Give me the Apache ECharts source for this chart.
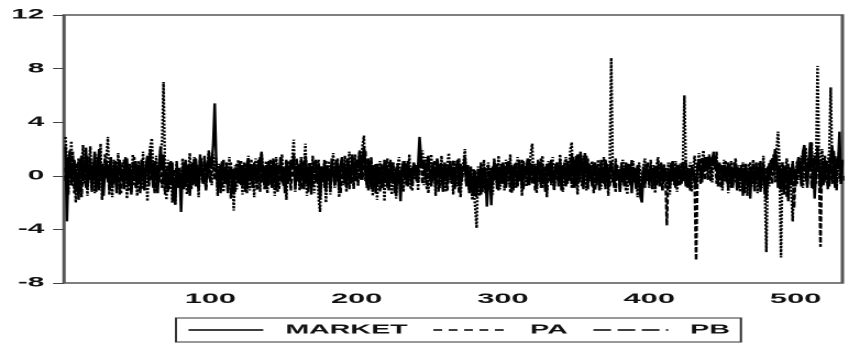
<!DOCTYPE html>
<html>
<head>
<meta charset="utf-8">
<script src="https://cdn.jsdelivr.net/npm/echarts@6/dist/echarts.min.js"></script>
<style>
  html, body { margin: 0; padding: 0; background: #fff; overflow: hidden; }
  /* the source picture is stretched horizontally, so the chart is drawn narrow and scaled in x */
  #main { width: 386px; height: 347px; transform: scaleX(2.1995); transform-origin: 0 0; }
</style>
</head>
<body>
<div id="main"></div>
<script>
var seriesNames = ['MARKET', 'PA', 'PB']

var market = [
  2.2,-3.4,0.8,1.9,-0.6,0.4,1.2,-1.1,0.3,-1.8,0.9,1.5,-0.4,0.6,2.1,-0.9,0.2,1.3,-0.7,0.5,
  1.8,-1.2,0.4,2.0,-0.3,0.9,-1.5,0.6,1.1,-0.5,0.3,1.4,-0.8,0.2,0.9,-1.3,0.7,1.2,-0.2,0.5,
  -1.0,0.8,1.3,-0.6,0.4,-1.4,0.9,0.2,1.1,-0.7,0.6,-0.3,1.2,0.1,-1.1,0.7,1.5,-0.4,2.0,0.3,
  -0.9,1.1,0.5,-1.3,0.8,2.2,0.4,1.6,-0.6,0.3,-1.2,0.9,-0.4,1.0,-1.6,-2.1,0.6,-0.8,0.2,-2.7,
  0.5,-1.0,1.2,-0.3,0.8,-1.5,0.4,1.0,-0.6,1.3,0.2,-0.9,1.6,0.3,-0.5,1.1,0.7,-0.2,1.8,0.6,
  0.9,2.4,5.4,1.2,-0.8,0.5,-1.3,0.9,0.2,-0.6,1.0,-1.1,0.4,0.7,-0.9,-1.4,0.6,0.3,-0.5,1.1,
  -0.7,0.8,0.2,-1.2,0.9,1.3,-0.4,0.5,-0.9,1.0,0.3,-0.6,1.2,0.6,1.8,-0.3,0.7,-1.0,0.4,1.1,
  0.2,-0.8,1.3,0.5,-1.1,0.8,0.1,1.4,-0.5,0.6,-1.3,0.9,0.3,-0.4,1.2,0.7,1.6,-0.9,0.4,0.8,
  -0.6,1.1,0.2,-1.0,1.5,0.4,-0.7,0.9,-1.4,0.6,0.3,1.2,-0.5,0.8,-1.8,0.5,-0.3,1.0,-1.2,0.7,
  0.4,-0.9,1.3,0.2,-0.6,1.0,0.5,-1.1,0.8,1.4,-0.2,0.6,-0.8,1.1,0.3,-0.5,1.6,0.9,-0.4,1.2,
  0.6,1.8,-0.3,1.1,2.2,0.5,-0.7,1.3,0.2,-1.0,0.8,0.4,-1.3,0.9,-0.5,0.7,0.1,-0.9,1.2,-0.4,
  0.8,-1.1,0.5,1.0,-0.6,0.3,-1.4,0.7,0.2,-1.9,0.6,1.1,-0.3,0.9,-0.8,0.4,0.2,-0.6,1.0,0.5,
  -0.4,0.8,2.9,1.4,0.6,1.2,-0.3,0.9,1.5,0.2,-0.7,1.0,0.4,-0.9,1.3,0.6,-0.2,0.8,-1.2,0.5,
  0.9,-0.6,0.3,1.1,-0.4,0.7,-1.0,0.5,1.2,0.1,-0.8,0.6,0.3,1.4,-0.5,0.8,-1.3,0.2,-0.7,-1.5,
  0.4,-1.2,-0.6,0.5,-1.4,0.3,-0.9,0.6,-2.3,-0.5,0.4,-2.2,0.7,-0.3,0.9,-1.0,0.5,0.2,-0.6,1.0,
  0.3,-0.8,0.7,1.1,-0.4,0.6,-1.1,0.9,0.2,-0.5,1.2,0.4,-0.9,0.8,-0.2,0.6,1.3,-0.7,0.5,0.9,
  -0.3,0.7,-1.0,1.1,0.4,-0.6,0.8,0.2,-1.2,0.9,0.5,-0.4,1.2,0.3,-0.8,0.7,1.0,-0.5,0.6,-1.1,
  0.8,0.3,-0.7,1.1,0.5,-0.4,1.6,0.2,-0.9,1.5,0.6,-0.3,1.8,0.4,-1.0,1.7,0.5,-0.6,0.9,0.2,
  -0.8,0.7,1.0,-0.5,0.4,-1.1,0.8,0.3,-0.6,1.2,0.5,-0.9,0.6,1.0,0.2,-0.7,0.9,-0.3,0.5,-1.2,
  0.7,0.3,-0.8,1.0,0.4,-0.5,0.8,-1.3,0.6,0.2,-0.9,0.7,-0.4,-1.6,-2.0,0.5,-0.7,0.9,0.3,-0.6,
  0.8,-0.3,0.5,-1.0,0.7,0.2,-0.8,1.0,0.4,-0.5,0.6,-0.2,0.3,-0.9,0.7,1.1,-0.4,0.5,-0.7,0.8,
  0.3,-0.6,1.0,0.4,-0.8,0.6,0.2,-1.1,0.7,0.5,-0.3,-0.9,0.8,1.2,0.4,-0.5,1.0,1.4,0.6,1.1,
  1.5,0.7,1.2,1.8,0.5,1.1,-0.3,0.9,0.4,-0.7,0.8,0.2,-0.5,1.0,0.3,-0.9,0.6,-0.2,0.9,-1.1,
  0.5,-0.4,0.8,-1.5,0.3,0.9,-0.6,0.4,-1.7,0.7,0.2,-0.8,1.0,-0.3,0.6,-1.2,0.4,0.9,-0.5,-1.8,
  0.6,-0.3,0.9,1.3,0.4,2.0,1.2,-0.6,0.8,-1.0,0.5,-1.4,0.7,0.2,-1.9,0.6,-0.4,0.9,0.3,-0.8,
  0.7,1.4,0.3,-0.6,1.8,2.3,0.5,-0.9,1.1,2.5,0.6,1.3,-1.7,0.4,1.9,0.8,-1.2,0.5,1.0,-0.4,
  1.1,0.6,-0.8,1.5,2.2,0.4,-0.9,1.3,0.7,3.3,-0.6,1.2
]

var pa = [
  2.9,1.2,-1.4,0.6,2.6,-0.8,1.1,-2.0,0.5,1.3,-1.2,0.4,2.3,-0.6,1.0,-1.5,0.8,2.2,-0.9,0.3,
  -1.3,1.6,0.2,-0.7,2.4,-1.8,0.9,0.1,1.5,2.9,-1.1,0.6,-1.6,1.2,0.3,-0.9,1.7,-1.4,0.5,1.0,
  -0.6,1.4,-1.7,0.8,0.2,-1.2,1.6,-0.4,0.9,-1.5,1.1,0.3,-1.0,1.8,-0.5,0.7,-1.9,1.3,2.2,2.8,
  0.4,-1.3,1.5,-0.7,0.9,1.9,2.5,7.0,0.6,-1.8,1.2,-0.5,0.8,-2.0,0.3,-2.2,1.1,-0.9,0.4,-1.6,
  1.3,-0.6,0.9,-1.4,0.5,1.7,-1.0,0.2,1.4,-0.8,0.7,-1.6,1.2,0.3,-0.5,1.5,-1.1,0.8,1.9,0.2,
  -0.7,1.6,0.4,1.3,-1.5,0.9,-0.4,1.1,-1.2,0.6,0.2,-0.9,1.4,-1.7,0.5,-2.6,0.8,-1.0,1.2,-0.3,
  0.7,-1.4,1.0,0.3,-0.8,1.5,-1.1,0.6,0.1,-1.6,1.3,-0.5,0.9,-1.2,1.7,0.4,-0.7,1.1,-1.3,0.5,
  1.2,-0.9,0.6,-1.5,1.4,0.2,-1.0,0.8,1.6,-0.6,0.3,-1.8,1.1,-0.4,0.7,1.3,2.7,-1.2,0.5,0.9,
  -1.1,1.4,-0.3,0.8,2.4,-1.5,0.6,1.0,-0.8,1.5,-1.3,0.4,0.9,-1.7,-2.7,0.7,-0.5,1.2,-2.0,0.3,
  1.1,-1.4,0.6,1.7,-0.9,0.2,1.3,-1.6,0.5,1.0,-0.7,1.5,-1.2,0.4,1.8,-0.6,0.9,-1.0,1.6,0.3,
  -0.8,1.9,0.5,2.3,3.0,-0.4,1.2,-1.1,0.7,1.4,-1.5,0.2,0.9,-1.8,0.6,1.1,-0.9,0.4,-1.9,0.8,
  1.3,-0.6,0.5,-1.4,1.0,0.2,-1.7,0.8,1.4,-0.5,0.6,-1.2,1.1,0.3,-0.8,1.6,-1.0,0.4,0.9,-0.3,
  0.6,-1.1,1.2,0.8,1.9,-0.7,1.4,0.5,-1.3,1.0,1.6,-0.4,0.7,-1.5,1.2,0.3,-0.9,1.5,-0.6,0.8,
  -1.2,0.9,1.7,-0.5,0.4,-1.4,1.1,0.6,-0.8,1.3,-1.6,0.2,1.0,2.0,-0.7,0.8,-1.1,0.5,-1.8,-0.9,
  -2.4,-3.9,0.7,-1.5,0.9,-0.4,1.2,-1.3,0.5,1.0,-0.8,0.6,-1.4,1.3,0.2,-0.7,1.5,-1.0,0.4,0.8,
  -1.1,1.2,0.3,-0.6,1.6,-1.3,0.7,0.2,-0.9,1.4,-0.4,0.8,-1.5,1.1,0.5,-0.8,1.3,0.4,1.7,2.4,
  -0.5,0.9,-1.3,1.2,0.3,-0.9,1.5,-0.4,0.7,-1.6,1.1,0.2,-0.7,1.4,-1.1,0.6,1.0,-0.5,1.6,0.3,
  -1.2,0.8,1.4,-0.6,0.5,1.9,2.5,-0.9,1.2,0.4,-1.4,1.6,0.3,-0.8,1.5,0.6,-1.1,1.3,-0.4,0.7,
  1.1,-1.3,0.5,-0.7,1.2,0.2,-1.0,0.9,1.4,-0.6,0.3,-1.5,1.0,8.8,0.6,-0.9,1.3,-0.3,0.5,-1.2,
  0.8,1.2,-0.7,0.4,-1.4,0.9,0.3,-0.8,1.1,-0.5,0.6,-1.6,1.0,0.2,-1.2,0.7,1.3,-0.4,0.5,-0.9,
  1.2,-0.6,0.4,-1.3,0.8,1.4,-0.5,0.6,-1.1,0.9,0.2,-0.8,1.0,-1.4,0.5,0.8,-0.7,1.1,-1.2,0.4,
  0.9,-0.5,1.3,6.0,0.7,-0.9,0.4,1.0,-1.2,0.6,1.5,-0.4,0.8,1.7,-0.6,1.2,1.9,0.5,1.4,-0.3,
  1.6,0.9,-0.5,1.3,0.6,1.8,-0.8,1.0,0.3,-1.1,1.2,-0.4,0.7,-1.3,0.5,1.1,-0.9,0.4,1.3,-0.6,
  0.8,-1.2,0.5,1.0,-0.7,0.3,-1.5,0.9,0.2,-0.8,1.2,-0.4,0.6,-1.3,1.0,0.4,-0.9,1.5,-1.1,-5.7,
  0.7,-0.8,1.2,0.4,1.6,-0.5,1.9,3.3,0.8,-6.1,1.0,-0.7,0.5,1.3,-0.9,0.6,-1.2,-3.4,0.4,-0.6,
  1.1,-0.3,0.8,1.5,-0.9,0.5,2.1,-0.6,1.4,0.3,2.5,-1.0,1.7,0.9,8.2,1.2,-0.8,2.0,0.6,1.3,
  -0.5,0.9,1.8,6.6,0.7,-0.4,1.5,-1.1,0.8,2.1,-0.6,1.0
]

var pb = [
  0.6,-1.0,1.4,0.3,-0.7,1.8,-1.3,0.5,0.9,-0.4,1.2,-1.6,0.7,0.2,-0.9,1.5,-0.3,0.8,-1.2,0.4,
  0.9,-0.5,1.3,-1.1,0.6,0.1,-0.8,1.6,-0.2,0.7,-1.4,0.9,0.4,-0.6,1.1,-1.0,0.5,0.2,-1.3,0.8,
  1.2,-0.4,0.6,-1.1,0.9,0.3,-0.7,1.4,-0.9,0.5,0.8,-1.3,0.4,1.0,-0.6,0.2,1.3,-0.8,0.6,-0.3,
  1.0,-1.2,0.5,0.8,-0.5,1.3,-0.9,0.4,-1.4,0.7,0.2,-1.0,1.1,-0.6,0.5,-1.5,0.9,-0.3,0.6,-1.1,
  0.4,1.0,-0.8,0.6,-1.2,0.9,0.3,-0.7,1.2,-0.4,0.8,-1.1,0.5,1.3,-0.6,0.2,-1.0,1.1,0.6,-0.5,
  1.4,0.7,-0.3,0.9,-1.1,0.4,0.8,-0.9,1.2,-0.5,0.6,-1.3,0.3,1.0,-0.7,0.5,-1.2,0.9,0.2,-0.6,
  1.1,-0.8,0.4,0.9,-1.3,0.6,-0.2,1.2,-0.9,0.5,0.7,-1.1,0.3,1.4,-0.5,0.8,-1.0,0.4,0.9,-0.7,
  0.5,1.1,-0.9,0.3,0.8,-1.2,0.6,-0.4,1.0,-0.8,0.4,1.2,-0.6,0.7,-1.1,0.9,0.3,-0.7,1.3,-0.4,
  0.8,-1.0,0.5,1.1,-0.6,0.3,-1.2,0.9,0.4,-0.8,1.0,-0.5,0.6,1.2,-1.4,0.7,0.2,-0.9,1.1,-0.3,
  0.6,-1.1,0.9,0.3,-0.7,1.2,-0.4,0.8,-1.3,0.5,0.9,-0.6,0.4,1.3,-1.0,0.7,0.2,-0.8,1.1,0.5,
  -0.6,1.0,1.5,-0.3,0.8,1.9,-0.9,0.6,-0.4,1.2,-1.1,0.5,0.8,-0.7,0.3,-1.2,0.9,0.4,-0.5,1.0,
  -0.9,0.6,1.2,-0.4,0.7,-1.3,0.5,0.9,-0.6,0.3,-1.0,0.8,0.4,-0.7,1.1,-0.2,0.6,-1.1,0.9,0.3,
  0.8,-0.5,1.3,1.0,-0.6,0.9,0.4,-1.0,1.2,0.6,-0.8,0.5,1.1,-0.4,0.7,-1.2,0.9,0.3,-0.7,1.0,
  0.4,-1.1,0.8,0.2,-0.6,1.2,-0.9,0.5,0.7,-1.3,0.9,-0.4,0.6,1.4,-0.8,0.3,-1.0,0.7,-1.4,0.5,
  -0.9,-1.6,0.4,-0.8,1.0,-1.2,0.5,-0.5,-1.4,0.7,-0.9,0.3,-0.6,1.1,-0.3,0.8,-1.1,0.4,0.9,-0.5,
  0.7,-0.9,1.1,0.4,-1.2,0.8,-0.3,0.6,1.0,-0.8,0.5,-0.4,1.2,-1.0,0.6,0.3,-0.7,1.1,0.5,-0.6,
  0.9,-1.1,0.4,0.8,-0.5,1.3,-0.9,0.6,0.2,-1.2,0.7,1.0,-0.6,0.4,-1.0,0.9,0.3,-0.8,1.2,-0.4,
  0.5,1.0,-0.8,0.7,-0.3,1.2,-0.9,1.4,0.4,-0.7,1.6,-0.5,0.8,1.3,-0.6,0.9,1.5,-1.0,0.4,0.7,
  -0.6,1.0,-1.1,0.5,0.8,-0.7,1.2,-0.4,0.6,-1.0,0.9,0.3,-0.8,1.1,-0.5,0.4,-1.2,0.8,0.2,-0.9,
  1.0,-0.5,0.6,-1.1,0.9,0.3,-0.7,1.2,-0.4,0.6,-1.0,0.8,0.4,-1.3,-0.6,0.7,-0.9,0.5,1.0,-0.4,
  0.6,-1.0,0.8,0.3,-0.7,1.1,-0.5,0.4,-1.1,0.7,0.2,-3.7,0.5,-0.8,1.0,-0.4,0.6,-0.9,0.8,0.3,
  -0.7,1.0,-0.4,0.6,1.2,-0.8,0.5,-1.0,0.8,0.3,-0.6,-6.3,0.4,0.9,-0.5,1.3,0.7,-0.3,1.1,0.6,
  1.2,-0.4,1.0,0.7,1.5,-0.6,0.9,0.3,-0.9,0.8,-0.4,1.1,0.5,-1.0,0.6,0.2,-0.8,1.0,-0.5,0.7,
  -1.0,0.6,-0.4,0.9,-1.3,0.5,0.2,-0.9,1.0,-0.6,0.8,-1.2,0.4,0.7,-0.8,1.1,-0.5,0.3,-1.4,0.6,
  -0.8,1.0,0.4,-0.6,1.2,0.5,1.6,-0.9,0.7,-1.2,1.0,-0.5,0.6,-1.6,0.9,0.3,-0.7,1.1,-2.4,0.5,
  -0.6,0.9,1.2,-0.8,0.5,1.6,-0.4,1.0,0.7,1.9,-0.9,0.8,1.4,-0.6,2.3,0.9,-5.3,1.1,-0.7,1.5,
  0.6,-1.0,1.3,0.8,-0.6,1.9,0.5,-0.9,1.4,0.8,-0.4,0.9
]

var yTicks = [-8, -4, 0, 4, 8, 12]
var xTickLabels = [100, 200, 300, 400, 500]

// observation number starts at 1
function toPairs(arr) {
  return arr.map(function (v, i) { return [i + 1, v] })
}

var chart = echarts.init(document.getElementById('main'), null, { devicePixelRatio: 2 })

var font = 'Liberation Sans, Arial, sans-serif'

chart.setOption({
  animation: false,
  backgroundColor: '#fff',
  grid: {
    left: 29.1,
    right: 0,
    top: 15,
    bottom: 64,
    show: true,
    borderColor: '#555',
    borderWidth: 1.5
  },
  legend: {
    left: 80,
    top: 318,
    orient: 'horizontal',
    padding: [4, 5],
    itemGap: 11,
    itemWidth: 34,
    itemHeight: 10,
    borderColor: '#333',
    borderWidth: 1,
    selectedMode: false,
    itemStyle: { opacity: 0 },
    textStyle: {
      fontFamily: font,
      fontSize: 13,
      fontWeight: 'bold',
      color: '#111',
      lineHeight: 16,
      padding: [0, 0, 0, 5]
    },
    data: [
      { name: 'MARKET', lineStyle: { type: 'solid', width: 1.4 } },
      { name: 'PA', lineStyle: { type: [4, 3], width: 1.4 } },
      { name: 'PB', lineStyle: { type: [8, 3], width: 1.4 } }
    ]
  },
  xAxis: {
    type: 'value',
    min: 0,
    max: 532,
    interval: 100,
    splitLine: { show: false },
    axisLine: { show: false },
    axisTick: { show: true, length: 5, lineStyle: { color: '#222', width: 1 } },
    minorTick: { show: true, splitNumber: 10, length: 3, lineStyle: { color: '#222', width: 1 } },
    axisLabel: {
      margin: 9,
      fontFamily: font,
      fontSize: 14,
      fontWeight: 'bold',
      color: '#111',
      formatter: function (v) { return xTickLabels.indexOf(v) >= 0 ? String(v) : '' }
    }
  },
  yAxis: {
    type: 'value',
    min: yTicks[0],
    max: yTicks[yTicks.length - 1],
    interval: 4,
    splitLine: { show: false },
    axisLine: { show: false },
    axisTick: { show: true, length: 5, lineStyle: { color: '#444', width: 1 } },
    axisLabel: {
      margin: 9,
      fontFamily: font,
      fontSize: 13.5,
      fontWeight: 'bold',
      color: '#111'
    }
  },
  series: [
    {
      name: seriesNames[0],
      type: 'line',
      data: toPairs(market),
      symbol: 'none',
      lineStyle: { color: '#000', width: 1.2, type: 'solid' },
      itemStyle: { color: '#000' },
      z: 3
    },
    {
      name: seriesNames[1],
      type: 'line',
      data: toPairs(pa),
      symbol: 'none',
      lineStyle: { color: '#000', width: 1.2, type: [2, 1.5] },
      itemStyle: { color: '#000' },
      z: 2
    },
    {
      name: seriesNames[2],
      type: 'line',
      data: toPairs(pb),
      symbol: 'none',
      lineStyle: { color: '#000', width: 1.2, type: [5, 2] },
      itemStyle: { color: '#000' },
      z: 2
    }
  ]
})
</script>
</body>
</html>
